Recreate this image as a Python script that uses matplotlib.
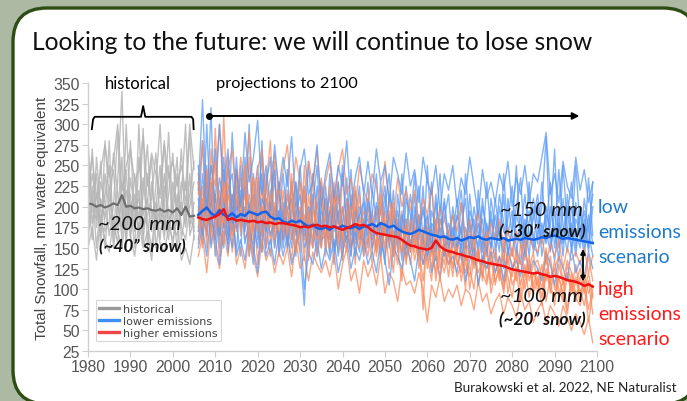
import numpy as np
import matplotlib
matplotlib.use("Agg")
import matplotlib.pyplot as plt
from matplotlib.patches import FancyBboxPatch
from matplotlib.lines import Line2D
from matplotlib.transforms import IdentityTransform

# ---- data (mm water equivalent) ----
hist_years = np.arange(1980, 2006)
proj_years = np.arange(2006, 2100)

hist_mean = [204, 203, 200, 202, 199, 201, 204, 202, 214, 200,
             201, 198, 199, 197, 198, 196, 195, 197, 194, 196,
             193, 198, 190, 200, 188, 189]

hist_members = [
    [250, 180, 215, 165, 240, 195, 170, 230, 340, 175, 205, 150, 260, 190, 210, 170, 225, 300, 185, 160, 230, 195, 270, 180, 215, 255],
    [170, 225, 150, 210, 185, 280, 160, 200, 175, 245, 160, 215, 185, 295, 150, 230, 175, 200, 160, 250, 175, 165, 210, 300, 165, 185],
    [215, 160, 260, 195, 150, 220, 245, 175, 210, 160, 280, 180, 220, 165, 205, 260, 150, 190, 240, 175, 205, 260, 160, 195, 290, 170],
    [190, 270, 175, 230, 205, 165, 200, 290, 185, 220, 175, 240, 160, 215, 275, 185, 205, 160, 225, 195, 150, 215, 190, 230, 175, 205],
    [160, 205, 240, 150, 280, 210, 185, 155, 230, 195, 215, 170, 300, 175, 190, 210, 265, 180, 200, 290, 190, 240, 175, 160, 200, 230],
    [280, 195, 185, 255, 170, 180, 265, 215, 160, 300, 190, 205, 170, 235, 180, 150, 200, 250, 170, 215, 265, 180, 230, 210, 185, 175],
    [205, 240, 195, 180, 215, 250, 150, 190, 260, 150, 235, 195, 210, 155, 240, 195, 185, 225, 280, 170, 200, 150, 205, 175, 240, 160],
    [150, 175, 135, 190, 160, 145, 185, 170, 150, 195, 165, 140, 180, 150, 170, 135, 190, 155, 145, 175, 160, 185, 135, 150, 130, 165],
    [225, 260, 210, 245, 275, 235, 255, 300, 220, 250, 270, 230, 245, 285, 225, 265, 240, 210, 275, 235, 255, 225, 250, 220, 300, 245],
]

low_mean = [190, 195, 199, 192, 189, 196, 190, 188, 192, 187,
            191, 189, 194, 192, 190, 193, 194, 188, 185, 186,
            182, 180, 183, 181, 183, 179, 176, 178, 174, 173,
            175, 172, 176, 174, 177, 175, 174, 176, 173, 176,
            177, 179, 176, 180, 178, 175, 177, 173, 170, 168,
            167, 169, 172, 170, 168, 166, 165, 163, 164, 161,
            160, 162, 159, 161, 163, 162, 164, 161, 160, 162,
            161, 160, 162, 159, 160, 161, 160, 162, 161, 160,
            161, 163, 162, 164, 165, 163, 161, 162, 161, 160,
            159, 158, 157, 156]

high_mean = [187, 185, 184, 186, 188, 191, 197, 184, 186, 183,
             184, 183, 182, 183, 181, 182, 180, 181, 179, 180,
             180, 179, 178, 177, 175, 176, 175, 177, 178, 176,
             177, 175, 176, 174, 172, 174, 176, 179, 177, 178,
             175, 171, 168, 167, 166, 165, 164, 163, 160, 156,
             153, 152, 150, 149, 148, 150, 159, 152, 148, 146,
             145, 143, 142, 140, 139, 137, 135, 134, 132, 131,
             130, 129, 128, 126, 124, 123, 122, 121, 120, 119,
             120, 118, 117, 115, 116, 115, 113, 111, 110, 109,
             107, 104, 106, 103]

low_members = [
    [230, 165, 300, 180, 215, 150, 245, 190, 170, 260, 175, 225, 140, 200, 250, 165, 210, 185, 235, 155,
     195, 160, 230, 175, 145, 80, 190, 215, 160, 205, 150, 240, 170, 195, 135, 210, 165, 185, 225, 140,
     200, 175, 150, 230, 165, 190, 140, 215, 170, 185, 145, 200, 160, 225, 135, 180, 170, 150, 210, 160,
     175, 140, 205, 150, 185, 130, 220, 160, 145, 195, 150, 180, 125, 210, 165, 140, 190, 155, 230, 145,
     170, 200, 285, 150, 175, 135, 210, 160, 180, 140, 195, 150, 235, 165],
    [170, 240, 185, 320, 160, 210, 175, 250, 195, 145, 220, 180, 300, 155, 195, 240, 150, 205, 175, 230,
     160, 215, 180, 140, 250, 175, 200, 150, 225, 170, 210, 160, 185, 230, 150, 175, 245, 160, 190, 205,
     150, 220, 185, 160, 200, 240, 165, 180, 135, 210, 190, 150, 175, 200, 160, 230, 145, 185, 165, 140,
     200, 165, 150, 240, 170, 185, 140, 200, 175, 150, 190, 160, 215, 140, 175, 250, 150, 185, 140, 200,
     155, 230, 170, 145, 195, 160, 250, 175, 150, 205, 160, 185, 145, 200],
    [210, 155, 230, 200, 270, 175, 150, 220, 240, 180, 140, 260, 195, 215, 160, 280, 175, 140, 200, 185,
     240, 180, 150, 205, 190, 165, 255, 175, 140, 195, 180, 215, 145, 165, 200, 150, 190, 220, 160, 175,
     230, 145, 195, 175, 215, 150, 185, 165, 240, 150, 175, 215, 140, 165, 190, 150, 205, 170, 185, 215,
     150, 190, 170, 135, 215, 160, 180, 145, 230, 165, 135, 200, 170, 160, 140, 190, 170, 215, 165, 150,
     205, 140, 175, 230, 150, 190, 140, 215, 165, 250, 175, 140, 190, 155],
    [160, 200, 250, 150, 185, 235, 205, 165, 290, 195, 210, 155, 185, 240, 175, 145, 225, 260, 150, 195,
     175, 245, 160, 190, 215, 150, 165, 240, 195, 150, 225, 170, 200, 140, 180, 235, 150, 170, 145, 215,
     165, 190, 240, 140, 180, 160, 220, 145, 190, 170, 215, 160, 190, 145, 250, 165, 135, 200, 150, 180,
     160, 210, 135, 175, 150, 200, 165, 185, 140, 210, 175, 145, 240, 165, 195, 150, 130, 175, 195, 165,
     140, 180, 155, 200, 165, 245, 175, 145, 200, 170, 150, 210, 170, 140],
    [250, 185, 170, 215, 140, 195, 260, 180, 150, 225, 185, 200, 165, 130, 230, 190, 170, 215, 245, 140,
     205, 150, 195, 230, 165, 180, 140, 205, 250, 160, 165, 195, 130, 215, 175, 160, 205, 140, 200, 180,
     185, 160, 205, 175, 130, 215, 195, 160, 175, 225, 150, 180, 225, 160, 140, 195, 175, 240, 140, 170,
     190, 150, 175, 210, 140, 165, 195, 130, 180, 150, 210, 165, 145, 185, 225, 160, 175, 140, 180, 210,
     180, 155, 200, 165, 135, 180, 155, 190, 230, 150, 200, 160, 175, 215],
    [190, 280, 165, 230, 195, 165, 210, 145, 215, 175, 250, 170, 205, 180, 150, 210, 195, 165, 185, 225,
     150, 195, 210, 165, 185, 225, 150, 180, 165, 230, 195, 140, 220, 180, 250, 175, 140, 195, 170, 155,
     210, 180, 165, 195, 225, 170, 150, 195, 160, 140, 180, 240, 165, 195, 170, 145, 215, 160, 205, 150,
     170, 185, 220, 150, 195, 175, 150, 210, 160, 185, 160, 215, 180, 145, 170, 200, 235, 150, 165, 185,
     215, 165, 190, 175, 270, 150, 170, 200, 145, 185, 170, 195, 150, 230],
    [150, 175, 140, 195, 160, 130, 180, 155, 200, 140, 160, 135, 175, 150, 120, 185, 140, 160, 130, 170,
     140, 165, 130, 150, 175, 100, 145, 130, 160, 125, 150, 135, 160, 120, 145, 165, 125, 150, 135, 160,
     130, 145, 120, 160, 135, 105, 150, 140, 125, 155, 135, 110, 150, 130, 160, 120, 140, 115, 150, 130,
     140, 120, 155, 110, 135, 150, 105, 140, 125, 145, 120, 140, 110, 150, 125, 135, 115, 150, 120, 135,
     125, 110, 145, 130, 105, 140, 125, 110, 150, 120, 135, 115, 145, 125],
    [220, 330, 195, 250, 205, 300, 225, 270, 180, 245, 200, 290, 230, 260, 305, 215, 250, 195, 275, 220,
     260, 225, 285, 200, 245, 270, 215, 230, 275, 200, 240, 265, 210, 250, 225, 280, 200, 235, 260, 215,
     255, 215, 270, 230, 250, 205, 260, 240, 215, 265, 225, 245, 205, 260, 230, 215, 250, 195, 240, 220,
     250, 200, 235, 215, 260, 225, 190, 245, 210, 230, 205, 240, 220, 255, 200, 235, 215, 250, 205, 240,
     230, 260, 290, 215, 240, 205, 255, 225, 210, 260, 220, 245, 205, 230],
]

high_members = [
    [240, 170, 210, 155, 295, 185, 225, 160, 200, 245, 165, 230, 185, 140, 210, 260, 170, 195, 150, 215,
     185, 150, 240, 170, 200, 135, 215, 180, 160, 225, 140, 200, 175, 230, 155, 185, 205, 130, 190, 160,
     210, 150, 175, 135, 195, 160, 120, 185, 145, 170, 130, 175, 150, 110, 165, 140, 185, 125, 155, 115,
     160, 130, 145, 100, 170, 125, 140, 115, 155, 105, 135, 110, 150, 95, 125, 140, 105, 130, 90, 120,
     105, 130, 85, 115, 125, 90, 110, 75, 120, 95, 100, 80, 110, 70],
    [175, 225, 150, 270, 190, 165, 310, 180, 215, 170, 205, 175, 260, 160, 190, 145, 225, 280, 170, 195,
     160, 220, 175, 195, 145, 250, 170, 150, 205, 180, 210, 160, 190, 145, 240, 170, 150, 200, 175, 140,
     165, 195, 140, 180, 150, 210, 160, 130, 175, 150, 175, 135, 160, 75, 190, 150, 120, 165, 140, 160,
     125, 150, 175, 130, 115, 155, 135, 160, 110, 140, 150, 120, 100, 145, 130, 110, 155, 115, 135, 105,
     125, 100, 140, 110, 80, 130, 105, 120, 95, 115, 85, 120, 95, 105],
    [200, 150, 235, 185, 160, 220, 175, 260, 145, 190, 235, 160, 175, 215, 130, 185, 240, 155, 205, 165,
     220, 170, 135, 190, 230, 160, 185, 210, 140, 170, 185, 225, 150, 170, 135, 210, 175, 155, 215, 165,
     140, 180, 200, 160, 185, 125, 170, 155, 195, 135, 160, 145, 190, 130, 150, 175, 110, 150, 130, 170,
     145, 115, 130, 155, 100, 140, 120, 135, 150, 95, 120, 140, 105, 125, 115, 150, 95, 120, 140, 100,
     115, 90, 125, 105, 135, 100, 85, 115, 100, 130, 95, 110, 75, 100],
    [155, 195, 245, 170, 215, 140, 195, 230, 175, 210, 185, 250, 140, 195, 170, 225, 150, 185, 255, 140,
     175, 200, 160, 230, 170, 190, 155, 240, 175, 150, 200, 145, 215, 180, 160, 195, 140, 225, 150, 185,
     175, 130, 160, 205, 140, 175, 190, 150, 110, 185, 145, 190, 125, 160, 140, 110, 175, 140, 120, 150,
     115, 160, 140, 120, 145, 165, 105, 130, 125, 150, 105, 130, 140, 115, 90, 125, 135, 100, 125, 145,
     95, 120, 110, 140, 100, 115, 90, 130, 105, 85, 115, 95, 120, 90],
    [140, 165, 120, 180, 150, 125, 170, 140, 190, 130, 150, 125, 165, 140, 115, 160, 135, 150, 120, 145,
     130, 150, 115, 160, 125, 140, 110, 145, 130, 120, 135, 115, 145, 100, 130, 150, 110, 125, 95, 135,
     115, 130, 105, 140, 95, 120, 110, 85, 125, 105, 110, 95, 120, 100, 60, 105, 90, 115, 85, 100,
     90, 105, 80, 100, 95, 75, 110, 85, 95, 70, 85, 95, 70, 90, 80, 65, 95, 75, 85, 60,
     75, 85, 60, 80, 70, 55, 80, 65, 50, 70, 60, 45, 65, 35],
    [215, 280, 190, 250, 225, 300, 205, 245, 270, 200, 260, 225, 290, 215, 245, 270, 200, 235, 265, 215,
     245, 275, 210, 260, 230, 205, 255, 225, 270, 200, 230, 255, 200, 245, 270, 215, 235, 195, 250, 220,
     205, 240, 225, 190, 255, 210, 185, 235, 200, 220, 195, 220, 180, 210, 190, 225, 170, 200, 185, 165,
     190, 170, 205, 160, 185, 150, 195, 170, 155, 180, 160, 185, 150, 175, 140, 170, 155, 135, 165, 150,
     145, 165, 130, 155, 140, 160, 125, 150, 135, 145, 130, 150, 120, 140],
    [185, 210, 165, 235, 175, 200, 155, 215, 190, 235, 170, 195, 215, 170, 235, 160, 200, 175, 190, 230,
     200, 165, 210, 145, 185, 215, 190, 160, 200, 235, 160, 185, 230, 155, 200, 170, 215, 185, 160, 195,
     190, 165, 145, 215, 170, 155, 205, 175, 160, 130, 185, 155, 170, 140, 175, 125, 160, 185, 150, 130,
     165, 135, 120, 160, 140, 130, 150, 110, 170, 130, 145, 115, 160, 130, 150, 120, 140, 160, 110, 130,
     135, 115, 150, 95, 125, 140, 110, 135, 120, 105, 125, 105, 140, 110],
    [230, 190, 180, 210, 255, 175, 230, 195, 165, 180, 195, 215, 160, 235, 185, 200, 175, 220, 160, 185,
     170, 195, 225, 180, 160, 220, 135, 195, 180, 160, 175, 150, 195, 215, 165, 145, 200, 170, 185, 150,
     160, 185, 170, 150, 175, 195, 140, 170, 145, 175, 150, 165, 135, 175, 125, 155, 145, 110, 165, 140,
     130, 150, 110, 140, 125, 100, 145, 120, 105, 135, 110, 125, 95, 140, 105, 120, 85, 110, 130, 95,
     110, 80, 120, 100, 90, 115, 95, 70, 110, 90, 80, 105, 60, 95],
]

y_ticks = list(range(25, 351, 25))
x_ticks = list(range(1980, 2101, 10))

# ---- figure ----
W, H = 687, 402
fig = plt.figure(figsize=(W / 100, H / 100), dpi=100)
fig.patch.set_facecolor("#adbaa3")


def fx(px):
    return px / W


def fy(py):
    return 1 - py / H


# slide frame, drawn in pixels, behind everything
frame = FancyBboxPatch((13, -3), 684, 396, boxstyle="round,pad=0,rounding_size=34",
                       transform=IdentityTransform(), facecolor="white",
                       edgecolor="#2e4d14", linewidth=2.4, zorder=-5)
fig.patches.append(frame)

fig.text(fx(32), fy(43), "Looking to the future: we will continue to lose snow",
         fontsize=17.7, family="Lato", color="#111111", va="center", ha="left")

ax = fig.add_axes([fx(88), fy(352), fx(597) - fx(88), fy(84) - fy(352)])
ax.set_facecolor("none")
ax.set_zorder(1)

for m in hist_members:
    ax.plot(hist_years, m, color="#b5b5b5", lw=1.0, alpha=0.85)
for b, r in zip(low_members, high_members):
    ax.plot(proj_years, b, color="#5a9af6", lw=1.0, alpha=0.75)
    ax.plot(proj_years, r, color="#fa8a5c", lw=1.0, alpha=0.75)

ax.plot(hist_years, hist_mean, color="#6e6e6e", lw=1.6)
ax.plot(proj_years, low_mean, color="#1463e8", lw=1.8)
ax.plot(proj_years, high_mean, color="#f01212", lw=1.8)

ax.set_xlim(1980, 2100)
ax.set_ylim(25, 350)
ax.set_xticks(x_ticks)
ax.set_yticks(y_ticks)
for s in ["top", "right"]:
    ax.spines[s].set_visible(False)
for s in ["left", "bottom"]:
    ax.spines[s].set_color("#cfcfcf")
    ax.spines[s].set_linewidth(1.0)
ax.tick_params(colors="#cfcfcf", length=4, pad=2, labelcolor="#555555", labelsize=11.3)
for lab in ax.get_xticklabels() + ax.get_yticklabels():
    lab.set_family("Liberation Sans")
ax.set_ylabel("Total Snowfall, mm water equivalent", fontsize=11, color="#444444",
              family="Liberation Sans", labelpad=3)

handles = [Line2D([], [], color="#9a9a9a", lw=2.4),
           Line2D([], [], color="#3f8ef5", lw=2.4),
           Line2D([], [], color="#f24545", lw=2.4)]
leg = ax.legend(handles, ["historical", "lower emissions", "higher emissions"],
                loc="lower left", bbox_to_anchor=(0.005, 0.015), fontsize=8,
                frameon=True, fancybox=False, handlelength=1.8, handletextpad=0.3,
                labelspacing=0.2, borderpad=0.3, labelcolor="#444444")
leg.get_frame().set_edgecolor("#cccccc")
leg.get_frame().set_linewidth(0.8)

# brackets and arrows above the data
ax.plot([1980.9, 1981.2, 1981.6, 1992.5, 1993.0, 1993.5, 2004.4, 2004.8, 2004.9],
        [294, 306, 309, 309, 322, 309, 309, 306, 294], color="black", lw=1.3, clip_on=False)
ax.plot([2008.6], [310], marker="o", color="black", ms=4, clip_on=False)
ax.annotate("", xy=(2096.5, 310), xytext=(2008.6, 310),
            arrowprops=dict(arrowstyle="-|>", color="black", lw=1.4, mutation_scale=10),
            annotation_clip=False)
ax.annotate("", xy=(2096.7, 106), xytext=(2096.7, 152),
            arrowprops=dict(arrowstyle="<|-|>", color="black", lw=1.3, mutation_scale=7))

fig.text(fx(138), fy(84), "historical", fontsize=12, family="Lato", ha="center", va="center")
fig.text(fx(216), fy(84), "projections to 2100", fontsize=11.8, family="Lato", ha="left", va="center")

# value annotations
ann = dict(family="Lato", color="#111111", va="center", ha="left", zorder=5)
fig.text(fx(98), fy(225), "~200 mm", fontsize=14.5, style="italic", **ann)
fig.text(fx(99), fy(247), "(~40\u201d snow)", fontsize=12.3, style="italic", weight="bold", **ann)
fig.text(fx(500), fy(211), "~150 mm", fontsize=14.5, style="italic", **ann)
fig.text(fx(499), fy(232), "(~30\u201d snow)", fontsize=12.3, style="italic", weight="bold", **ann)
fig.text(fx(500), fy(297), "~100 mm", fontsize=14.5, style="italic", **ann)
fig.text(fx(499), fy(320), "(~20\u201d snow)", fontsize=12.3, style="italic", weight="bold", **ann)

side = dict(family="Lato", fontsize=14, va="center", ha="left")
for txt, py in [("low", 208), ("emissions", 233), ("scenario", 258)]:
    fig.text(fx(598), fy(py), txt, color="#1f7bc9", **side)
for txt, py in [("high", 290), ("emissions", 315), ("scenario", 340)]:
    fig.text(fx(598), fy(py), txt, color="#ff1a1a", **side)

fig.text(fx(676), fy(387), "Burakowski et al. 2022, NE Naturalist", fontsize=9.7,
         family="Lato", color="#222222", ha="right", va="center")

fig.savefig("out.png", dpi=100, facecolor=fig.get_facecolor())
